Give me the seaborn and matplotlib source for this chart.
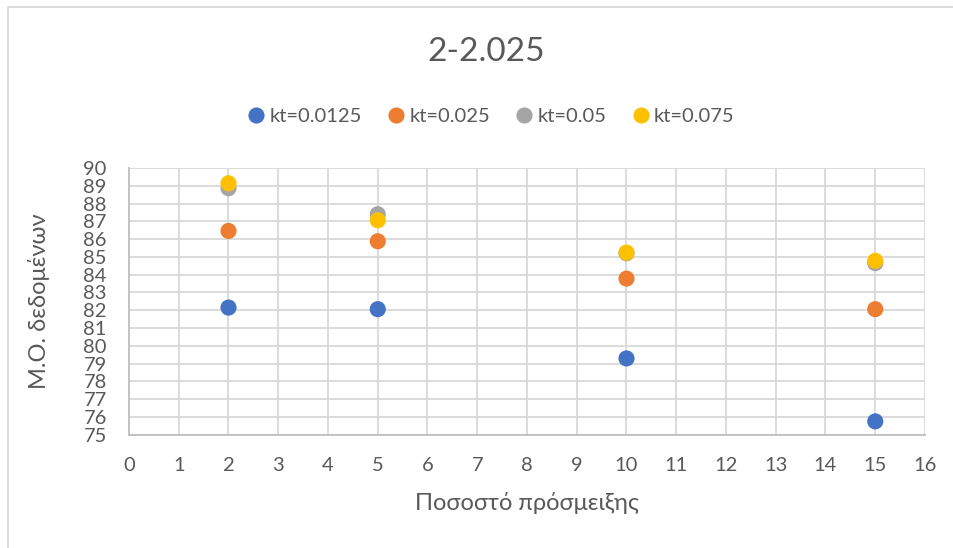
import matplotlib
matplotlib.use("Agg")
import matplotlib.pyplot as plt
import seaborn as sns
import pandas as pd
from matplotlib.patches import Rectangle

# Admixture percentage on the x axis
percent = [2, 5, 10, 15]

# Mean values for each kt setting
kt_0125 = [82.15, 82.06, 79.29, 75.75]
kt_025 = [86.46, 85.88, 83.78, 82.06]
kt_05 = [88.86, 87.40, 85.20, 84.65]
kt_075 = [89.14, 87.06, 85.24, 84.78]

series_names = ["kt=0.0125", "kt=0.025", "kt=0.05", "kt=0.075"]
series_colors = ["#4472C4", "#ED7D31", "#A5A5A5", "#FFC000"]

x_ticks = list(range(0, 17))
y_ticks = list(range(75, 91))

title = "2-2.025"
x_label = "Ποσοστό πρόσμειξης"
y_label = "Μ.Ο. δεδομένων"

rows = []
for name, vals in zip(series_names, [kt_0125, kt_025, kt_05, kt_075]):
    for x, y in zip(percent, vals):
        rows.append({"x": x, "y": y, "series": name})
df = pd.DataFrame(rows)

sns.set_theme(style="white")
plt.rcParams["font.family"] = ["Lato", "Open Sans", "DejaVu Sans"]
text_color = "#595959"
grid_color = "#D9D9D9"

fig = plt.figure(figsize=(9.54, 5.48), dpi=100)
ax = fig.add_axes([129 / 954, 1 - 434.7 / 548, 796 / 954, 266.7 / 548])

sns.scatterplot(
    data=df, x="x", y="y", hue="series", hue_order=series_names,
    palette=series_colors, s=135, linewidth=0, ax=ax, legend=True, zorder=3,
)

ax.set_xlim(0, 16)
ax.set_ylim(75, 90)
ax.set_xticks(x_ticks)
ax.set_yticks(y_ticks)
ax.grid(True, color=grid_color, linewidth=1.3, zorder=0)
ax.set_axisbelow(True)
for side in ["top", "right"]:
    ax.spines[side].set_visible(False)
for side in ["left", "bottom"]:
    ax.spines[side].set_color("#BFBFBF")
    ax.spines[side].set_linewidth(1.3)

ax.tick_params(axis="both", length=0, labelsize=14.5, colors=text_color)
ax.tick_params(axis="y", pad=16)
ax.tick_params(axis="x", pad=16)

ax.set_xlabel(x_label, fontsize=17, color=text_color)
ax.set_ylabel(y_label, fontsize=17, color=text_color)
ax.xaxis.set_label_coords(0.5, (434.7 - 492) / 266.7)
ax.yaxis.set_label_coords((50 - 129) / 796, 0.5)

handles, labels = ax.get_legend_handles_labels()
ax.get_legend().remove()
fig.legend(
    handles, labels, loc="center", bbox_to_anchor=(0.515, 1 - 116 / 548),
    ncol=4, frameon=False, fontsize=14.5, labelcolor=text_color,
    handlelength=0.8, handletextpad=0.25, columnspacing=1.3, markerscale=1.0,
)

fig.text(486 / 954, 1 - 52 / 548, title, ha="center", va="center",
         fontsize=24, color=text_color)

# Light outer frame of the chart area
fig.patches.append(Rectangle((8 / 954, -0.05), 1.1, 1 - 7 / 548 + 0.05,
                             transform=fig.transFigure, fill=False,
                             edgecolor="#D9D9D9", linewidth=1.3))

fig.savefig("out.png", dpi=100)
